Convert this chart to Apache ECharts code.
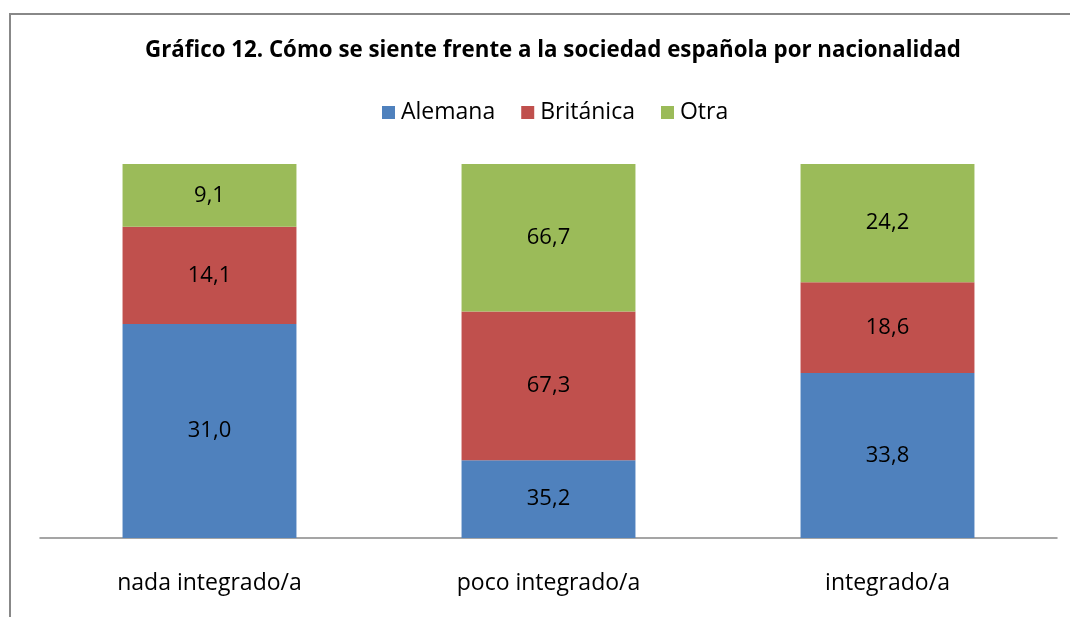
<!DOCTYPE html>
<html><head><meta charset="utf-8">
<script src="https://cdn.jsdelivr.net/npm/echarts@6/dist/echarts.min.js"></script>
<style>html,body{margin:0;padding:0;background:#fff}#c{width:1070px;height:617px}</style>
</head><body><div id="c"></div>
<script>
const categories = ['nada integrado/a', 'poco integrado/a', 'integrado/a'];
const alemana = [31.0, 35.2, 33.8];
const britanica = [14.1, 67.3, 18.6];
const otra = [9.1, 66.7, 24.2];
const seriesNames = ['Alemana', 'Británica', 'Otra'];
const colors = ['#4F81BD', '#C0504D', '#9BBB59'];

const raw = [alemana, britanica, otra];
const totals = categories.map((_, i) => raw.reduce((s, a) => s + a[i], 0));
const FONT = '"Open Sans", "Noto Sans", sans-serif';

const chart = echarts.init(document.getElementById('c'));
chart.setOption({
  animation: false,
  title: {
    text: 'Gráfico 12. Cómo se siente frente a la sociedad española por nacionalidad',
    left: 548, textAlign: 'center', top: 35,
    textStyle: {fontFamily: FONT, fontWeight: 'bold', fontSize: 22.3, color: '#000'}
  },
  legend: {
    data: seriesNames, top: 96, left: 377,
    icon: 'rect', itemWidth: 13, itemHeight: 13, itemGap: 26,
    textStyle: {fontFamily: FONT, fontSize: 23, color: '#000', padding: [0, 0, 0, 1]}
  },
  graphic: [{
    type: 'rect', shape: {x: 10, y: 14, width: 1080, height: 640},
    style: {fill: 'none', stroke: '#888', lineWidth: 2}, silent: true
  }],
  grid: {left: 40, right: 13, top: 164, bottom: 79, containLabel: false},
  xAxis: {
    type: 'category', data: categories,
    axisLine: {lineStyle: {color: '#888', width: 1.5}},
    axisTick: {show: false},
    axisLabel: {fontFamily: FONT, fontSize: 23, color: '#000', margin: 34}
  },
  yAxis: {type: 'value', min: 0, max: 100, show: false, splitLine: {show: false}},
  series: raw.map((arr, k) => ({
    name: seriesNames[k], type: 'bar', stack: 'total', barWidth: '51.3%',
    itemStyle: {color: colors[k]},
    data: arr.map((v, i) => ({value: v / totals[i] * 100, raw: v})),
    label: {
      show: true, position: 'inside', color: '#000', fontFamily: FONT, fontSize: 22,
      formatter: p => arr[p.dataIndex].toFixed(1).replace('.', ',')
    }
  }))
});
</script></body></html>
